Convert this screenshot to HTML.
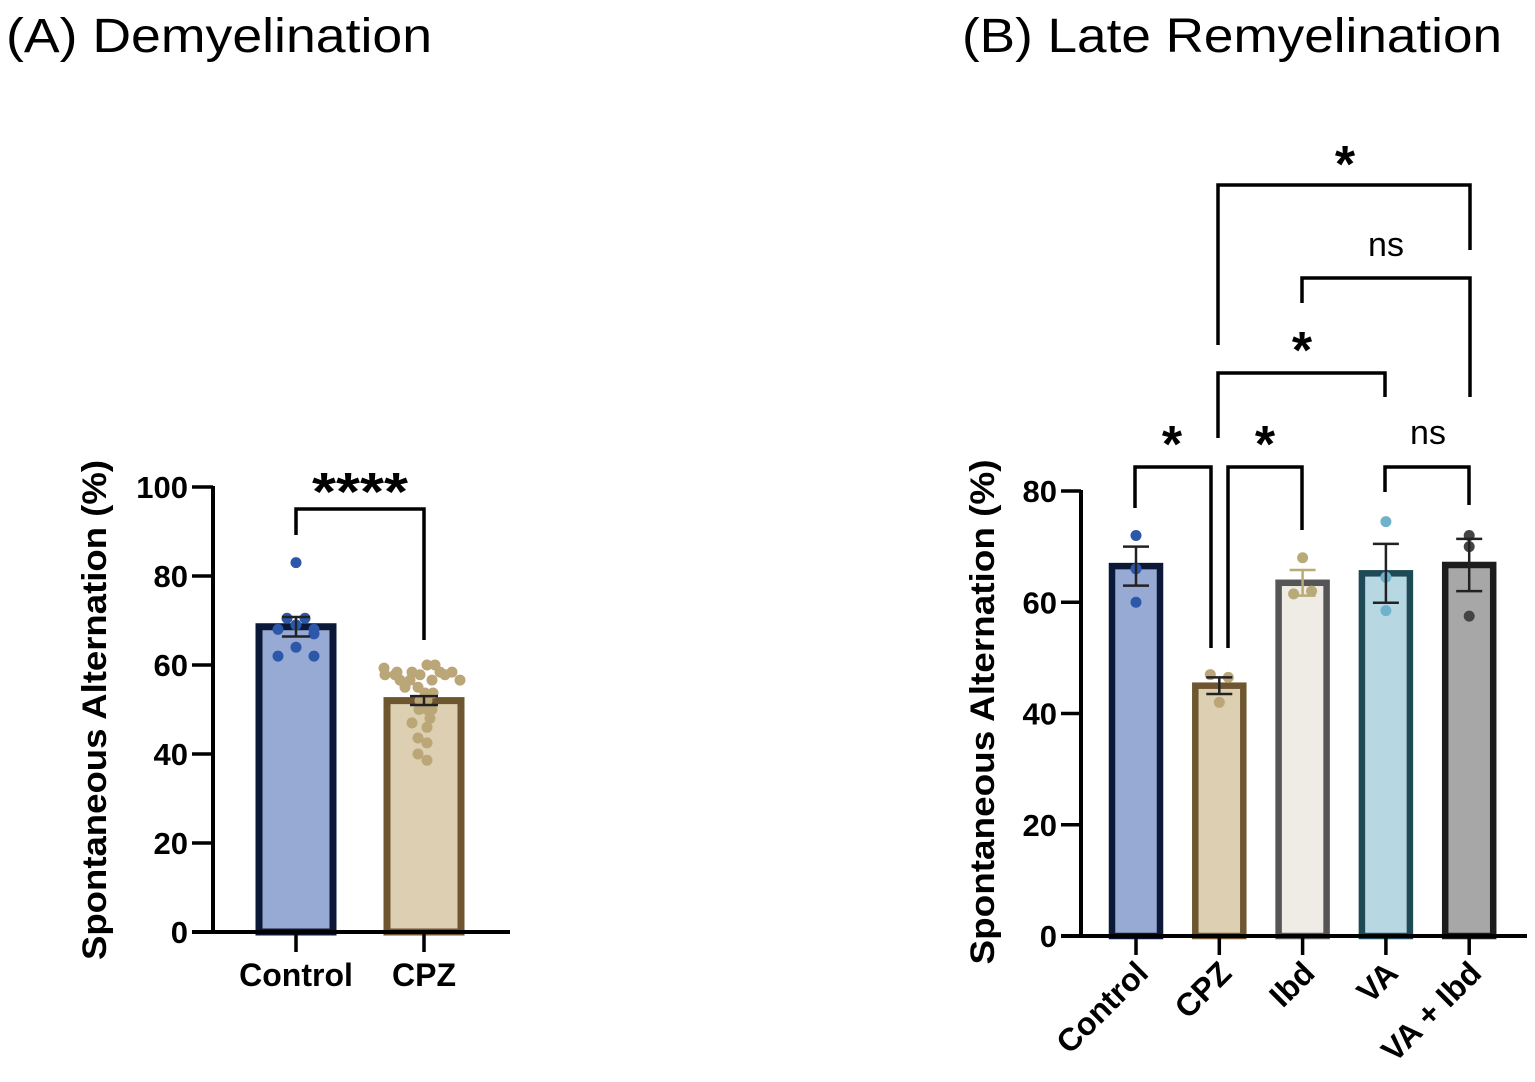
<!DOCTYPE html>
<html><head><meta charset="utf-8"><style>
html,body{margin:0;padding:0;background:#fff;}
svg{display:block;font-family:"Liberation Sans",sans-serif;}
</style></head><body>
<svg id="s" width="1535" height="1082" viewBox="0 0 1535 1082">
<text x="6" y="52" font-size="48" textLength="426" lengthAdjust="spacingAndGlyphs">(A) Demyelination</text>
<text x="962" y="52" font-size="48" textLength="540" lengthAdjust="spacingAndGlyphs">(B) Late Remyelination</text>
<g id="ga"></g>
<g id="gb"></g>
</svg>
<script>
// Chart A data
const catsA = ["Control","CPZ"];
const meansA = [68.6, 52];
const semsA = [2.2, 1.0];
const ptsA0 = [83,70.5,70.5,69,68,68,67,64,62,62];
const ptsA1 = [59.3,60,60,58.4,58.4,58.4,58.4,57.8,57.8,57.8,57.8,56.6,56.6,56.6,56.6,55,55,53.7,53.7,52,52,50,50,50,47,48,46,43.6,42.5,40,38.6];
const ticksA = [0,20,40,60,80,100];
// Chart B data
const catsB = ["Control","CPZ","Ibd","VA","VA + Ibd"];
const meansB = [66.5, 45, 63.5, 65.2, 66.7];
const semsB = [3.5, 1.5, 2.3, 5.3, 4.7];
const ptsB = [[72,66,60],[47,46.5,42],[68,61.5,62],[74.5,64.5,58.5],[72,70,57.5]];
const ticksB = [0,20,40,60,80];

const NS="http://www.w3.org/2000/svg";
function mk(parent,tag,attrs,txt){const e=document.createElementNS(NS,tag);for(const k in attrs)e.setAttribute(k,attrs[k]);if(txt!=null)e.textContent=txt;parent.appendChild(e);return e;}

// ---------- Chart A ----------
const ga=document.getElementById('ga');
const yA=v=>932-v*4.45;
const xA=i=>296+i*128;
const fillA=["#97aad4","#dccfb2"], strokeA=["#0c1838","#6e5630"], dotA=["#2d57a8","#bba677"];
const jitA0=[0,-9,9,0,-18,18,18,0,-18,18];
const jitA1=[-40,3,11,-27,-12,16,28,-39,-29,-4,21,-24,-14,8,36,-19,-6,1,9,-4,3,-5,3,8,-12,6,3,-6,3,-6,3];
ticksA.forEach(t=>{
  const l=mk(ga,'line',{x1:192,x2:213,y1:yA(t),y2:yA(t),stroke:'#000','stroke-width':3.5});
  
  
  const tx=mk(ga,'text',{x:188,y:yA(t)+11,'text-anchor':'end','font-size':31,'font-weight':'bold'},t);
  
  
});
catsA.forEach((c,i)=>{
  const cx=xA(i), top=yA(meansA[i]);
  const r=mk(ga,'rect',{x:cx-37,y:top,width:74,height:932-top,fill:fillA[i],stroke:strokeA[i],'stroke-width':7});
  
  
  const pts=i==0?ptsA0:ptsA1, jit=i==0?jitA0:jitA1;
  pts.forEach((v,k)=>{
    const d=mk(ga,'circle',{cx:cx+jit[k],cy:yA(v),r:5.5,fill:dotA[i]});
    
    
  });
  const e=mk(ga,'path',{d:`M${cx-14},${yA(meansA[i]+semsA[i])}H${cx+14}M${cx},${yA(meansA[i]+semsA[i])}V${yA(meansA[i]-semsA[i])}M${cx-14},${yA(meansA[i]-semsA[i])}H${cx+14}`,stroke:'#222','stroke-width':2.5,fill:'none'});
  
  
  const tk=mk(ga,'line',{x1:cx,x2:cx,y1:932,y2:952,stroke:'#000','stroke-width':3.5});
  
  
  const lb=mk(ga,'text',{x:cx,y:986,'text-anchor':'middle','font-size':32,'font-weight':'bold'},c);
  
  
});
const axA=mk(ga,'path',{d:'M213,486V932M192,932H510',stroke:'#000','stroke-width':4,fill:'none'});


const ytA=mk(ga,'text',{transform:'translate(106,710) rotate(-90)','text-anchor':'middle','font-size':34,'font-weight':'bold',textLength:500,lengthAdjust:'spacingAndGlyphs'},'Spontaneous Alternation (%)');


const brA=mk(ga,'path',{d:'M296,535V509H424V640',stroke:'#000','stroke-width':3.5,fill:'none'});


const stA=mk(ga,'text',{x:360,y:510,'text-anchor':'middle','font-size':54,'font-weight':'bold',textLength:96,lengthAdjust:'spacingAndGlyphs'},'****');



// ---------- Chart B ----------
const gb=document.getElementById('gb');
const yB=v=>936-v*5.5625;
const xB=i=>1136+i*83.3;
const fillB=["#97aad4","#dccfb2","#efece6","#b7d8e2","#a7a7a7"];
const strokeB=["#0c1838","#6e5630","#555555","#1e4a56","#1c1c1c"];
const dotB=["#2d57a8","#bba677","#b8ab77","#6fb2cc","#444444"];
const jitB=[[0,0,0],[-9,9,0],[0,-9,9],[0,0,0],[0,0,0]];
ticksB.forEach(t=>{
  const l=mk(gb,'line',{x1:1061,x2:1081,y1:yB(t),y2:yB(t),stroke:'#000','stroke-width':3.5});
  
  
  const tx=mk(gb,'text',{x:1057,y:yB(t)+11,'text-anchor':'end','font-size':31,'font-weight':'bold'},t);
  
  
});
catsB.forEach((c,i)=>{
  const cx=xB(i), top=yB(meansB[i]);
  const r=mk(gb,'rect',{x:cx-24,y:top,width:48,height:936-top,fill:fillB[i],stroke:strokeB[i],'stroke-width':6.5});
  
  
  ptsB[i].forEach((v,k)=>{
    const d=mk(gb,'circle',{cx:cx+jitB[i][k],cy:yB(v),r:5.5,fill:dotB[i]});
    
    
  });
  const hi=yB(meansB[i]+semsB[i]), lo=yB(meansB[i]-semsB[i]);
  const e=mk(gb,'path',{d:`M${cx-13},${hi}H${cx+13}M${cx},${hi}V${lo}M${cx-13},${lo}H${cx+13}`,stroke:i==2?'#b8ab77':'#222','stroke-width':2.5,fill:'none'});
  
  
  const tk=mk(gb,'line',{x1:cx,x2:cx,y1:936,y2:955,stroke:'#000','stroke-width':3.5});
  
  
  const lb=mk(gb,'text',{transform:`translate(${cx+14},${975}) rotate(-45)`,'text-anchor':'end','font-size':32,'font-weight':'bold'},c);
  
  
});
const axB=mk(gb,'path',{d:'M1081,490V936M1061,936H1527',stroke:'#000','stroke-width':4,fill:'none'});


const ytB=mk(gb,'text',{transform:'translate(994,712) rotate(-90)','text-anchor':'middle','font-size':34,'font-weight':'bold',textLength:505,lengthAdjust:'spacingAndGlyphs'},'Spontaneous Alternation (%)');


const brackets=[
 'M1135,508V467H1211V648',
 'M1228,648V467H1302V530',
 'M1385,492V467H1469V505',
 'M1218,438V373H1385V397',
 'M1302,303V278H1470V397',
 'M1218,345V185H1470V250'];
brackets.forEach(d=>{
  const p=mk(gb,'path',{d:d,stroke:'#000','stroke-width':3.5,fill:'none'});
  
  
});
const labs=[[1172,462,'*',52,'bold'],[1265,462,'*',52,'bold'],[1302,368,'*',52,'bold'],[1345,182,'*',52,'bold'],[1386,256,'ns',34,'normal'],[1428,444,'ns',34,'normal']];
labs.forEach(a=>{
  const t=mk(gb,'text',{x:a[0],y:a[1],'text-anchor':'middle','font-size':a[3],'font-weight':a[4]},a[2]);
  
  
});
</script>
</body></html>
